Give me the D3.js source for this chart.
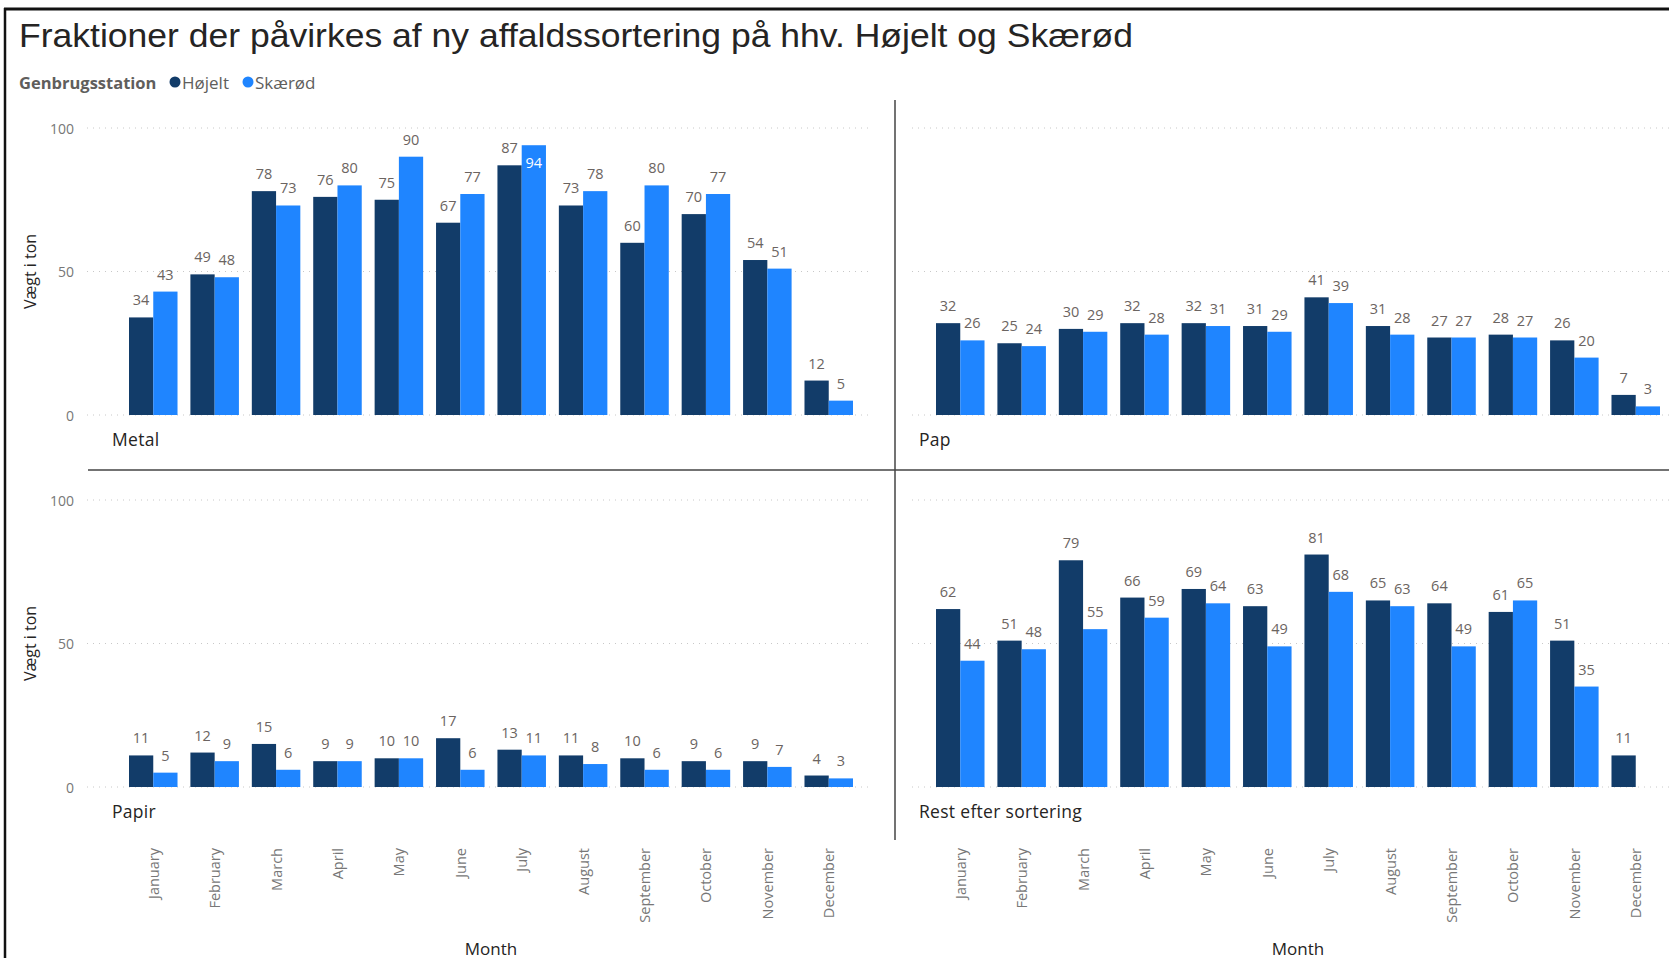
<!DOCTYPE html>
<html>
<head>
<meta charset="utf-8">
<script src="https://cdn.jsdelivr.net/npm/d3@7"></script>
<style>
  body { margin: 0; background: white; }
  text { font-family: "Segoe UI", "Open Sans", "Noto Sans", sans-serif; }
</style>
</head>
<body>
<div id="chart"></div>
<script>
// Data
const months = ["January", "February", "March", "April", "May", "June", "July",
  "August", "September", "October", "November", "December"];
const series = ["Højelt", "Skærød"];
const fractions = ["Metal", "Pap", "Papir", "Rest efter sortering"];

const metalHojelt = [34, 49, 78, 76, 75, 67, 87, 73, 60, 70, 54, 12];
const metalSkaerod = [43, 48, 73, 80, 90, 77, 94, 78, 80, 77, 51, 5];
const papHojelt = [32, 25, 30, 32, 32, 31, 41, 31, 27, 28, 26, 7];
const papSkaerod = [26, 24, 29, 28, 31, 29, 39, 28, 27, 27, 20, 3];
const papirHojelt = [11, 12, 15, 9, 10, 17, 13, 11, 10, 9, 9, 4];
const papirSkaerod = [5, 9, 6, 9, 10, 6, 11, 8, 6, 6, 7, 3];
const restHojelt = [62, 51, 79, 66, 69, 63, 81, 65, 64, 61, 51, 11];
const restSkaerod = [44, 48, 55, 59, 64, 49, 68, 63, 49, 65, 35, null];

const yTicks = [0, 50, 100];

const panelData = [
  [metalHojelt, metalSkaerod],
  [papHojelt, papSkaerod],
  [papirHojelt, papirSkaerod],
  [restHojelt, restSkaerod]
];

let width = 1669, height = 958;
const colDx = [0, 807];
const rowDy = [0, 372];
const gridX = [[87, 873], [912, 1669]];

const svg = d3.select('#chart')
  .append('svg')
  .attr('width', width)
  .attr('height', height)
  .style('background', 'white');

const color = d3.scaleOrdinal()
  .domain(series)
  .range(["#123c69", "#1f85ff"]);

// frame
svg.append('line').attr('x1', 4).attr('x2', width).attr('y1', 9).attr('y2', 9)
  .attr('stroke', '#111').attr('stroke-width', 3);
svg.append('line').attr('x1', 5).attr('x2', 5).attr('y1', 8).attr('y2', height)
  .attr('stroke', '#111').attr('stroke-width', 2.5);

// title
svg.append('text')
  .text('Fraktioner der påvirkes af ny affaldssortering på hhv. Højelt og Skærød')
  .attr('x', 19).attr('y', 47)
  .attr('textLength', 1114).attr('lengthAdjust', 'spacingAndGlyphs')
  .style('font-family', '"Liberation Sans", Arial, sans-serif')
  .style('font-size', '33px')
  .attr('fill', '#252423');

// legend
const legend = svg.append('g').attr('transform', 'translate(19,82)');
legend.append('text').text('Genbrugsstation')
  .attr('dominant-baseline', 'central')
  .style('font-size', '16.5px').style('font-weight', 'bold')
  .attr('fill', '#605e5c');
const legendX = [175, 248];
series.forEach((s, i) => {
  legend.append('circle').attr('cx', legendX[i] - 19).attr('cy', 0).attr('r', 5.5)
    .attr('fill', color(s));
  legend.append('text').text(s)
    .attr('x', legendX[i] - 19 + 7).attr('dominant-baseline', 'central')
    .style('font-size', '17px').attr('fill', '#605e5c');
});

// scales (shared by all panels, shifted per panel)
const x0 = d3.scaleBand()
  .domain(months)
  .range([129, 853])
  .paddingInner(0.21)
  .paddingOuter(0);

const x1 = d3.scaleBand()
  .domain(series)
  .range([0, x0.bandwidth()]);

const y = d3.scaleLinear()
  .domain([0, 100])
  .range([415, 128]);

fractions.forEach((name, p) => {
  const col = p % 2, row = Math.floor(p / 2);
  const dx = colDx[col], dy = rowDy[row];
  const g = svg.append('g');

  // gridlines
  yTicks.forEach(t => {
    g.append('line')
      .attr('x1', gridX[col][0]).attr('x2', gridX[col][1])
      .attr('y1', y(t) + dy).attr('y2', y(t) + dy)
      .attr('stroke', '#c8c8c8').attr('stroke-width', 1)
      .attr('stroke-dasharray', '1,5');
  });

  // y axis labels on left column only
  if (col === 0) {
    yTicks.forEach(t => {
      g.append('text').text(t)
        .attr('x', 74).attr('y', y(t) + dy)
        .attr('text-anchor', 'end').attr('dominant-baseline', 'central')
        .style('font-size', '14px').attr('fill', '#777');
    });
    g.append('text').text('Vægt i ton')
      .attr('transform', `translate(30,${(y(0) + y(100)) / 2 + dy}) rotate(-90)`)
      .attr('text-anchor', 'middle').attr('dominant-baseline', 'central')
      .style('font-size', '16px').attr('fill', '#252423');
  }

  // bars
  series.forEach((s, si) => {
    const vals = panelData[p][si];
    months.forEach((m, mi) => {
      const v = vals[mi];
      if (v == null) return;
      const bx = dx + x0(m) + x1(s);
      g.append('rect')
        .attr('x', bx).attr('y', y(v) + dy)
        .attr('width', x1.bandwidth())
        .attr('height', y(0) - y(v))
        .attr('fill', color(s));
      const inside = v >= 92;
      g.append('text').text(v)
        .attr('x', bx + x1.bandwidth() / 2)
        .attr('y', y(v) + dy + (inside ? 23 : -12))
        .attr('text-anchor', 'middle')
        .style('font-size', '14.5px')
        .attr('fill', inside ? 'white' : '#6b6461');
    });
  });

  // panel name
  g.append('text').text(name)
    .attr('x', 112 + dx).attr('y', 439 + dy)
    .attr('dominant-baseline', 'central')
    .style('font-size', '17.5px').style('letter-spacing', '0.3px')
    .attr('fill', '#252423');

  // month axis on bottom row
  if (row === 1) {
    months.forEach(m => {
      g.append('text').text(m)
        .attr('transform', `translate(${dx + x0(m) + x0.bandwidth() / 2},848) rotate(-90)`)
        .attr('text-anchor', 'end').attr('dominant-baseline', 'central')
        .style('font-size', '14.5px').attr('fill', '#777');
    });
    g.append('text').text('Month')
      .attr('x', dx + (129 + 853) / 2).attr('y', 948)
      .attr('text-anchor', 'middle').attr('dominant-baseline', 'central')
      .style('font-size', '17px').attr('fill', '#252423');
  }
});

// dividers
svg.append('line').attr('x1', 895).attr('x2', 895).attr('y1', 100).attr('y2', 840)
  .attr('stroke', '#444').attr('stroke-width', 1.5);
svg.append('line').attr('x1', 88).attr('x2', width).attr('y1', 470).attr('y2', 470)
  .attr('stroke', '#444').attr('stroke-width', 1.5);
</script>
</body>
</html>
